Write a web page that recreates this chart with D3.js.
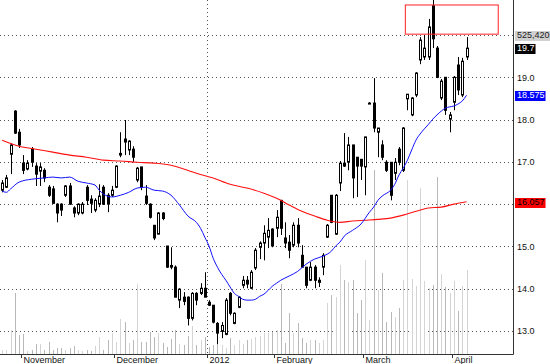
<!DOCTYPE html>
<html>
<head>
<meta charset="utf-8">
<script src="https://cdn.jsdelivr.net/npm/d3@7"></script>
<style>
  body { margin: 0; background: #fff; }
  svg { display: block; font-family: "Liberation Sans", Arial, sans-serif; }
</style>
</head>
<body>
<div id="chart"></div>
<script>
// daily bars, oldest first
const opens = [16.33,16.40,17.18,18.20,17.70,16.97,16.83,17.30,16.90,16.78,16.80,16.40,16.36,16.00,16.00,16.21,16.43,15.91,15.79,15.79,
  16.40,16.12,15.86,16.00,16.40,16.21,16.21,16.40,17.16,17.54,17.28,17.30,16.57,16.88,16.19,16.00,15.50,15.29,15.79,15.01,
  14.55,14.51,13.73,13.80,13.80,13.30,13.89,13.89,14.01,13.68,13.61,13.18,12.99,12.92,13.89,13.18,13.56,14.08,14.20,14.01,
  14.49,14.98,15.08,15.22,15.41,15.43,16.09,15.20,15.10,15.03,15.50,14.79,14.51,14.20,14.51,14.15,14.51,15.22,16.21,15.29,
  16.50,16.97,16.99,17.40,17.11,17.06,16.88,18.39,18.39,17.70,17.40,16.99,16.99,16.73,17.30,16.80,18.49,18.11,18.58,19.41,
  19.48,19.48,20.69,19.69,18.51,19.00,18.01,18.41,19.29,18.58,19.48];
const highs = [16.57,16.69,17.44,18.22,17.78,17.16,17.04,17.35,16.97,16.97,16.85,16.45,16.43,16.02,16.02,16.45,16.50,15.95,16.02,16.05,
  16.45,16.21,16.14,16.47,16.45,16.26,16.43,16.92,17.70,17.99,17.51,17.37,16.88,16.88,16.45,16.02,15.50,15.81,15.81,15.01,
  14.98,14.55,14.01,13.92,13.82,13.92,13.92,14.13,14.39,13.73,13.61,13.21,13.21,13.78,13.92,13.44,13.82,14.30,14.30,14.44,
  14.96,15.12,15.50,15.67,15.43,15.86,16.09,15.57,15.27,15.57,15.67,15.03,14.51,14.63,14.56,14.27,14.84,15.53,16.21,16.24,
  17.02,17.68,17.59,17.40,17.11,17.06,17.59,18.41,18.98,17.80,17.51,17.04,16.99,17.09,17.35,17.82,18.60,18.53,19.12,19.95,
  20.00,20.38,20.83,19.74,18.96,19.00,18.18,19.03,19.48,19.46,19.95];
const lows = [16.28,16.38,16.71,17.66,17.33,16.71,16.80,16.88,16.43,16.43,16.52,16.17,16.02,15.57,15.72,16.17,15.98,15.69,15.74,15.76,
  15.98,15.79,15.81,15.93,15.98,15.81,16.17,16.38,17.11,17.16,17.16,17.00,16.52,16.33,15.98,15.66,15.15,15.29,15.62,14.49,
  14.46,13.80,13.54,13.61,13.13,13.25,13.61,13.85,13.80,13.59,13.18,12.69,12.83,12.90,13.37,13.16,13.54,14.01,14.01,13.99,
  14.44,14.70,14.67,14.96,14.98,15.22,15.27,14.96,14.72,14.98,14.98,14.51,14.01,14.18,14.01,14.04,14.32,15.20,15.55,15.27,
  16.31,16.88,16.80,16.14,16.17,16.57,16.21,18.37,17.70,17.11,17.04,16.76,16.09,16.57,16.92,16.76,18.22,18.08,18.53,19.31,
  19.41,19.41,19.69,18.98,18.46,18.11,17.70,18.22,18.58,18.53,19.41];
const closes = [16.50,16.62,17.40,17.68,17.40,16.80,16.97,16.99,16.71,16.88,16.62,16.21,16.02,15.79,15.86,16.43,16.00,15.79,16.00,16.00,
  16.09,16.02,16.09,16.19,16.00,16.00,16.33,16.90,17.20,17.47,17.49,17.11,16.85,16.40,16.02,15.69,15.20,15.79,15.66,14.51,
  14.51,13.80,13.99,13.70,13.30,13.89,13.73,14.01,13.80,13.61,13.21,12.95,13.13,13.73,13.42,13.42,13.80,14.20,14.11,14.39,
  14.91,15.08,15.31,15.38,15.01,15.69,15.43,15.08,14.91,15.50,15.08,14.51,14.08,14.51,14.20,14.20,14.79,15.50,15.57,16.21,
  16.97,16.90,17.40,16.62,16.90,16.90,17.59,18.39,17.80,17.80,17.11,16.80,16.21,16.99,16.99,17.80,18.60,18.51,19.10,19.88,
  19.69,20.19,19.91,19.00,18.91,18.22,18.11,19.00,18.70,19.38,19.69];
const volumes = [25000,25000,150000,381500,119000,125000,19000,25000,62500,62500,25000,75000,25000,37500,37500,25000,37500,50000,25000,19000,
  25000,19000,50000,106000,25000,87500,131000,75000,219000,200000,69000,87500,438000,75000,75000,138000,106000,131000,69000,44000,
  94000,150000,62500,56000,113000,175000,56000,87500,106000,44000,56000,75000,56000,37500,100000,56000,87500,62500,87500,94000,
  106000,113000,131000,131000,138000,150000,438000,69000,256000,131000,194000,100000,69000,87500,87500,69000,87500,319000,369000,356500,
  557000,463000,450000,463000,256000,338000,588000,212000,1151000,400000,507000,200000,263000,231000,288000,463000,1088000,469000,425000,1038000,
  457000,413000,432000,1107000,500000,419000,381500,457000,269000,425000,525420];

const fastMaBars = [0,1,2,4,7,10,12,14,16,18,20,22,23,24,26,28,30,32,34,36,38,40,42,44,46,47,48,49,50,51,52,53,54,55,56,57,58,59,60,61,62,63,64,65,66,68,70,72,74,76,78,79,80,81,83,85,87,88,89,90,92,93,94,95,96,97,98,99,100,101,102,103,104,105,106,107,108,109,110];
const fastMaVals = [16.31,16.28,16.36,16.52,16.59,16.62,16.64,16.62,16.64,16.54,16.50,16.45,16.33,16.24,16.17,16.21,16.28,16.38,16.40,16.33,16.31,16.21,15.98,15.72,15.57,15.43,15.22,15.01,14.72,14.51,14.34,14.20,14.04,13.89,13.82,13.75,13.73,13.73,13.75,13.82,13.87,13.96,14.06,14.13,14.20,14.30,14.41,14.58,14.70,14.77,14.89,15.01,15.10,15.24,15.38,15.53,15.81,15.93,16.09,16.19,16.33,16.47,16.69,16.85,17.04,17.28,17.51,17.66,17.78,17.89,18.01,18.11,18.20,18.27,18.30,18.32,18.37,18.44,18.575];
const slowMaBars = [0,4,8,12,16,20,24,28,32,36,40,43,46,50,54,58,62,65,68,71,74,77,80,83,86,89,92,95,98,101,104,107,110];
const slowMaVals = [17.51,17.37,17.30,17.23,17.16,17.11,17.04,17.02,16.99,16.97,16.92,16.83,16.73,16.62,16.47,16.38,16.26,16.14,15.98,15.83,15.72,15.62,15.57,15.60,15.62,15.64,15.67,15.74,15.83,15.91,15.93,16.00,16.057];

const monthLabels = ["November", "December", "2012", "February", "March", "April"];
const monthStartBars = [5, 27, 49, 65, 86, 107];
const yearStartBar = 49;
const priceTicks = [13, 14, 15, 16, 17, 18, 19];
const gridPrices = [13, 14, 15, 16, 17, 18, 19, 20];
const highlightBars = [95.5, 117.5];
const highlightPrices = [20.02, 20.71];

const width = 550, height = 364;
const plotRight = 513, plotBottom = 354;

const x = d3.scaleLinear().domain([-0.5, 121]).range([0, plotRight]);
const y = d3.scaleLinear().domain([20, 13]).range([35, 331]);
const yVol = d3.scaleLinear().domain([0, 525420]).range([plotBottom, 270]);

const svg = d3.select("#chart").append("svg")
  .attr("width", width).attr("height", height);

// gridlines
svg.append("g").selectAll("line").data(gridPrices).join("line")
  .attr("x1", 0).attr("x2", plotRight)
  .attr("y1", d => Math.round(y(d)) + 0.5).attr("y2", d => Math.round(y(d)) + 0.5)
  .attr("stroke", "#555").attr("stroke-dasharray", "1,3");
svg.append("line")
  .attr("x1", Math.round(x(yearStartBar - 0.5)) + 0.5).attr("x2", Math.round(x(yearStartBar - 0.5)) + 0.5)
  .attr("y1", 0).attr("y2", plotBottom)
  .attr("stroke", "#555").attr("stroke-dasharray", "1,3");

const bars = d3.range(opens.length).map(i => ({
  i, o: opens[i], h: highs[i], l: lows[i], c: closes[i], v: volumes[i]
}));

// volume
svg.append("g").selectAll("rect").data(bars).join("rect")
  .attr("x", d => Math.round(x(d.i)))
  .attr("width", 1)
  .attr("y", d => yVol(d.v))
  .attr("height", d => plotBottom - yVol(d.v))
  .attr("fill", d => d.c < d.o ? "#b8b8b8" : "#d4d4d4");

// candles
const candle = svg.append("g").selectAll("g").data(bars).join("g");
candle.append("line")
  .attr("x1", d => Math.round(x(d.i)) + 0.5).attr("x2", d => Math.round(x(d.i)) + 0.5)
  .attr("y1", d => y(d.h)).attr("y2", d => y(d.l))
  .attr("stroke", "#000");
candle.append("rect")
  .attr("x", d => Math.round(x(d.i)) - 0.5)
  .attr("width", 2)
  .attr("y", d => y(Math.max(d.o, d.c)))
  .attr("height", d => Math.max(1, Math.abs(y(d.o) - y(d.c))))
  .attr("fill", d => d.c < d.o ? "#000" : "#fff")
  .attr("stroke", "#000");

// moving averages
const line = d3.line().x(d => x(d[0])).y(d => y(d[1])).curve(d3.curveMonotoneX);
svg.append("path")
  .attr("d", line(d3.zip(slowMaBars, slowMaVals)))
  .attr("fill", "none").attr("stroke", "#ff1010").attr("stroke-width", 1.1);
svg.append("path")
  .attr("d", line(d3.zip(fastMaBars, fastMaVals)))
  .attr("fill", "none").attr("stroke", "#1010ff").attr("stroke-width", 1);

// highlight box
svg.append("rect")
  .attr("x", x(highlightBars[0])).attr("width", x(highlightBars[1]) - x(highlightBars[0]))
  .attr("y", y(highlightPrices[1])).attr("height", y(highlightPrices[0]) - y(highlightPrices[1]))
  .attr("fill", "none").attr("stroke", "#ff2020");

// frame
svg.append("line").attr("x1", plotRight + 0.5).attr("x2", plotRight + 0.5)
  .attr("y1", 0).attr("y2", plotBottom + 0.5).attr("stroke", "#333");
svg.append("line").attr("x1", 0).attr("x2", plotRight + 0.5)
  .attr("y1", plotBottom + 0.5).attr("y2", plotBottom + 0.5).attr("stroke", "#333");

// last-value tags
const lastIdx = closes.length - 1;
const tags = [
  { text: d3.format(",")(volumes[lastIdx]), v: 20, bg: "#d0d0d0", fg: "#222" },
  { text: closes[lastIdx].toFixed(1), v: closes[lastIdx], bg: "#000", fg: "#fff" },
  { text: String(fastMaVals[fastMaVals.length - 1]), v: fastMaVals[fastMaVals.length - 1], bg: "#0000ff", fg: "#fff" },
  { text: String(slowMaVals[slowMaVals.length - 1]), v: slowMaVals[slowMaVals.length - 1], bg: "#ff0000", fg: "#000" }
];

// price axis, labels hidden where a tag sits on them
const visibleTicks = priceTicks.filter(t => tags.every(g => Math.abs(y(t) - y(g.v)) > 8));
svg.append("g").selectAll("text").data(visibleTicks).join("text")
  .attr("x", plotRight + 4).attr("y", d => y(d) + 1)
  .attr("dominant-baseline", "middle")
  .attr("font-size", 9).attr("fill", "#111")
  .text(d => d.toFixed(1));

const tag = svg.append("g").selectAll("g").data(tags).join("g")
  .attr("transform", d => `translate(${plotRight + 2},${Math.round(y(d.v)) + 1})`);
tag.append("text")
  .attr("x", 2).attr("y", 0)
  .attr("dominant-baseline", "middle")
  .attr("font-size", 9).attr("fill", d => d.fg)
  .text(d => d.text)
  .each(function (d) { d.w = this.getComputedTextLength(); });
tag.insert("rect", "text")
  .attr("x", 0).attr("y", -5).attr("height", 10)
  .attr("width", d => d.w + 3)
  .attr("fill", d => d.bg);

// time axis
const months = svg.append("g").selectAll("g").data(monthLabels).join("g")
  .attr("transform", (d, k) => `translate(${Math.round(x(monthStartBars[k] - 0.5)) + 0.5},${plotBottom})`);
months.append("line").attr("y1", 0).attr("y2", 4).attr("stroke", "#333");
months.append("text")
  .attr("x", 2).attr("y", 8.5)
  .attr("font-size", 9).attr("fill", "#111")
  .text(d => d);
</script>
</body>
</html>
